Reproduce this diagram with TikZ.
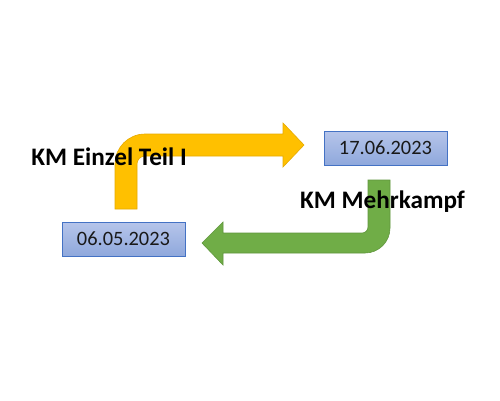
\documentclass[tikz,border=0pt]{standalone}
\usepackage{fontspec}
\setmainfont{Carlito}
\definecolor{yel}{RGB}{255,192,0}
\definecolor{yelb}{RGB}{230,170,0}
\definecolor{grn}{RGB}{112,173,71}
\definecolor{grnb}{RGB}{95,150,60}
\definecolor{boxt}{RGB}{182,197,234}
\definecolor{boxb}{RGB}{143,168,220}
\definecolor{boxd}{RGB}{68,114,196}
\begin{document}
\begin{tikzpicture}[x=1pt,y=-1pt,
  datebox/.style={draw=boxd, line width=0.8pt, top color=boxt, bottom color=boxb,
    minimum width=123pt, minimum height=34pt, inner sep=0pt,
    font=\fontsize{20.4}{24}\selectfont, text=black!90},
  title/.style={font=\fontsize{25.2}{30}\selectfont\bfseries, text=black, inner sep=0pt, anchor=base}]
\useasboundingbox (0,0) rectangle (500,400);
\fill[white] (0,0) rectangle (500,400);
% yellow bent arrow
\filldraw[fill=yel, draw=yelb, line width=0.6pt]
  (115,209) [rounded corners=30] -- (115,134) [sharp corners] -- (283,134) -- (283,123)
  -- (304,145) -- (283,167) -- (283,156) [rounded corners=8] -- (137,156)
  [sharp corners] -- (137,209) -- cycle;
% green bent arrow
\filldraw[fill=grn, draw=grnb, line width=0.6pt]
  (390,180) [rounded corners=25] -- (390,253) [sharp corners] -- (223,253) -- (223,265)
  -- (202,243) -- (223,222) -- (223,233) [rounded corners=6] -- (368,233)
  [sharp corners] -- (368,180) -- cycle;
\node[datebox] (d1) at (123.5,239) {06.05.2023};
\node[datebox] (d2) at (385.5,148) {17.06.2023};
\node[title] (t1) at (109,165) {KM Einzel Teil I};
\node[title] (t2) at (382.5,208) {KM Mehrkampf};
\end{tikzpicture}
\end{document}
